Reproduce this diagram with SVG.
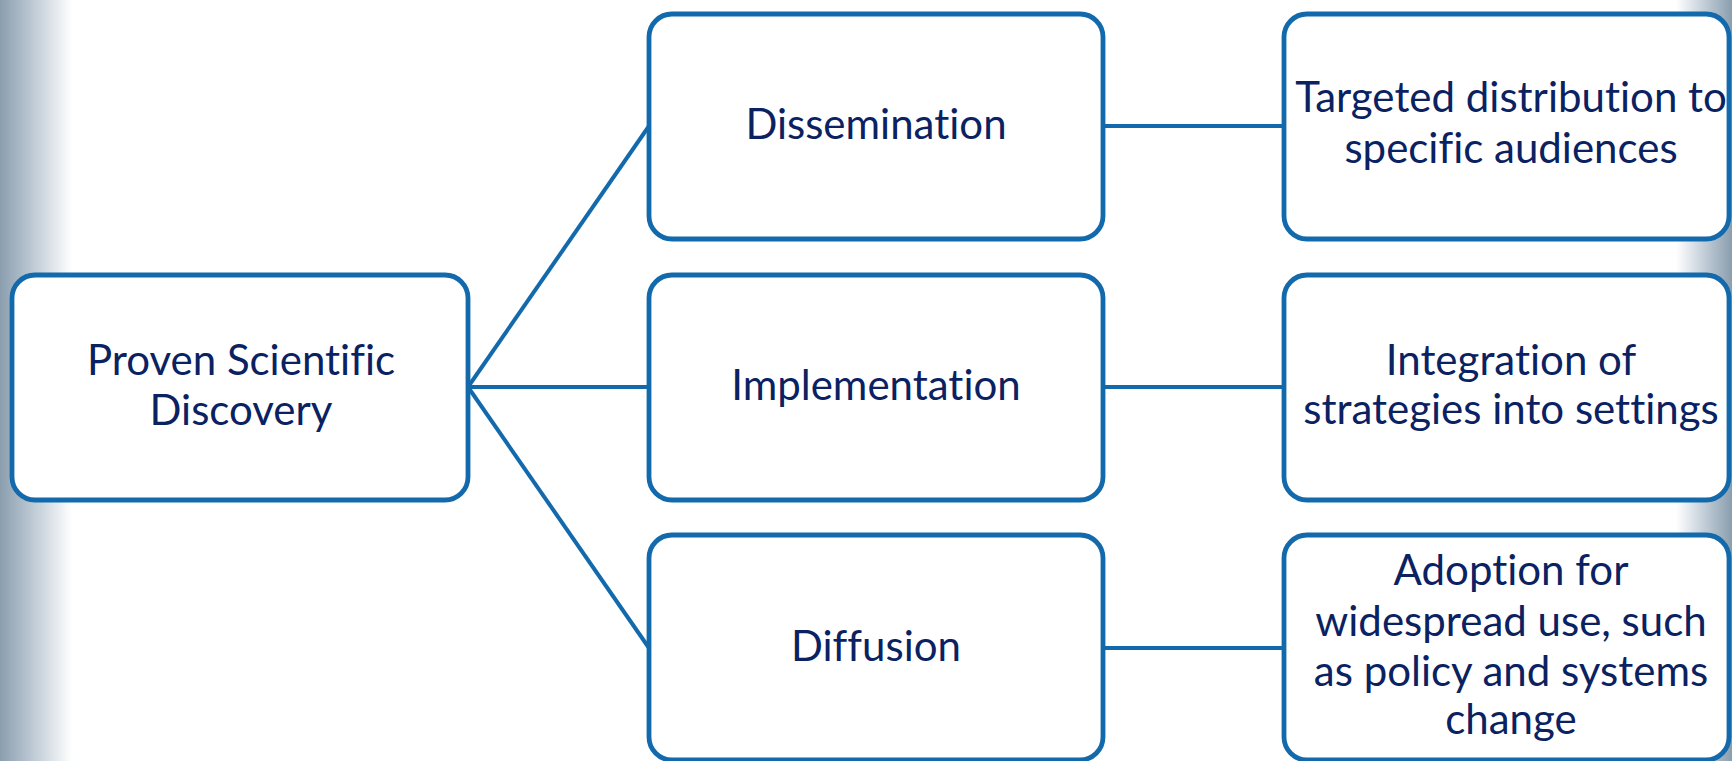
<svg xmlns="http://www.w3.org/2000/svg" width="1732" height="761" viewBox="0 0 1732 761">
<defs>
<linearGradient id="gl" x1="0" y1="0" x2="72" y2="0" gradientUnits="userSpaceOnUse">
<stop offset="0" stop-color="#8a9eae"/>
<stop offset="0.5" stop-color="#c3ced8"/>
<stop offset="1" stop-color="#ffffff"/>
</linearGradient>
<linearGradient id="gr" x1="1676" y1="0" x2="1732" y2="0" gradientUnits="userSpaceOnUse">
<stop offset="0" stop-color="#ffffff"/>
<stop offset="0.5" stop-color="#c3ced8"/>
<stop offset="1" stop-color="#8a9eae"/>
</linearGradient>
<style>
.box{fill:#ffffff;stroke:#126aac;stroke-width:4.8}
.conn{stroke:#126aac;stroke-width:4;fill:none}
.t{font-family:Lato,"Open Sans",sans-serif;font-size:42px;fill:#0b2262;text-anchor:middle;font-variant-ligatures:none;font-feature-settings:"liga" 0,"clig" 0,"dlig" 0}
</style>
</defs>
<rect x="0" y="0" width="1732" height="761" fill="#ffffff"/>
<rect x="0" y="0" width="72" height="761" fill="url(#gl)"/>
<rect x="1676" y="0" width="56" height="761" fill="url(#gr)"/>
<g id="connectors">
<line class="conn" x1="468" y1="387" x2="649" y2="126"/>
<line class="conn" x1="468" y1="387" x2="649" y2="387"/>
<line class="conn" x1="468" y1="387" x2="649" y2="648"/>
<line class="conn" x1="1103" y1="126" x2="1284" y2="126"/>
<line class="conn" x1="1103" y1="387" x2="1284" y2="387"/>
<line class="conn" x1="1103" y1="648" x2="1284" y2="648"/>
</g>
<g id="node-discovery">
<rect class="box" x="12" y="275" width="456" height="225" rx="23"/>
<text class="t" x="241" y="375">Proven Scientific</text>
<text class="t" x="241" y="425">Discovery</text>
</g>
<g id="node-dissemination">
<rect class="box" x="649" y="14" width="454" height="225" rx="23"/>
<text class="t" x="876" y="139">Dissemination</text>
</g>
<g id="node-implementation">
<rect class="box" x="649" y="275" width="454" height="225" rx="23"/>
<text class="t" x="876" y="400">Implementation</text>
</g>
<g id="node-diffusion">
<rect class="box" x="649" y="535" width="454" height="225" rx="23"/>
<text class="t" x="876" y="661">Diffusion</text>
</g>
<g id="node-targeted">
<rect class="box" x="1284" y="14" width="445" height="225" rx="23"/>
<text class="t" x="1511" y="112">Targeted distribution to</text>
<text class="t" x="1511" y="163">specific audiences</text>
</g>
<g id="node-integration">
<rect class="box" x="1284" y="275" width="445" height="225" rx="23"/>
<text class="t" x="1511" y="375">Integration of</text>
<text class="t" x="1511" y="424">strategies into settings</text>
</g>
<g id="node-adoption">
<rect class="box" x="1284" y="535" width="445" height="225" rx="23"/>
<text class="t" x="1511" y="585">Adoption for</text>
<text class="t" x="1511" y="636">widespread use, such</text>
<text class="t" x="1511" y="686">as policy and systems</text>
<text class="t" x="1511" y="734">change</text>
</g>
</svg>
